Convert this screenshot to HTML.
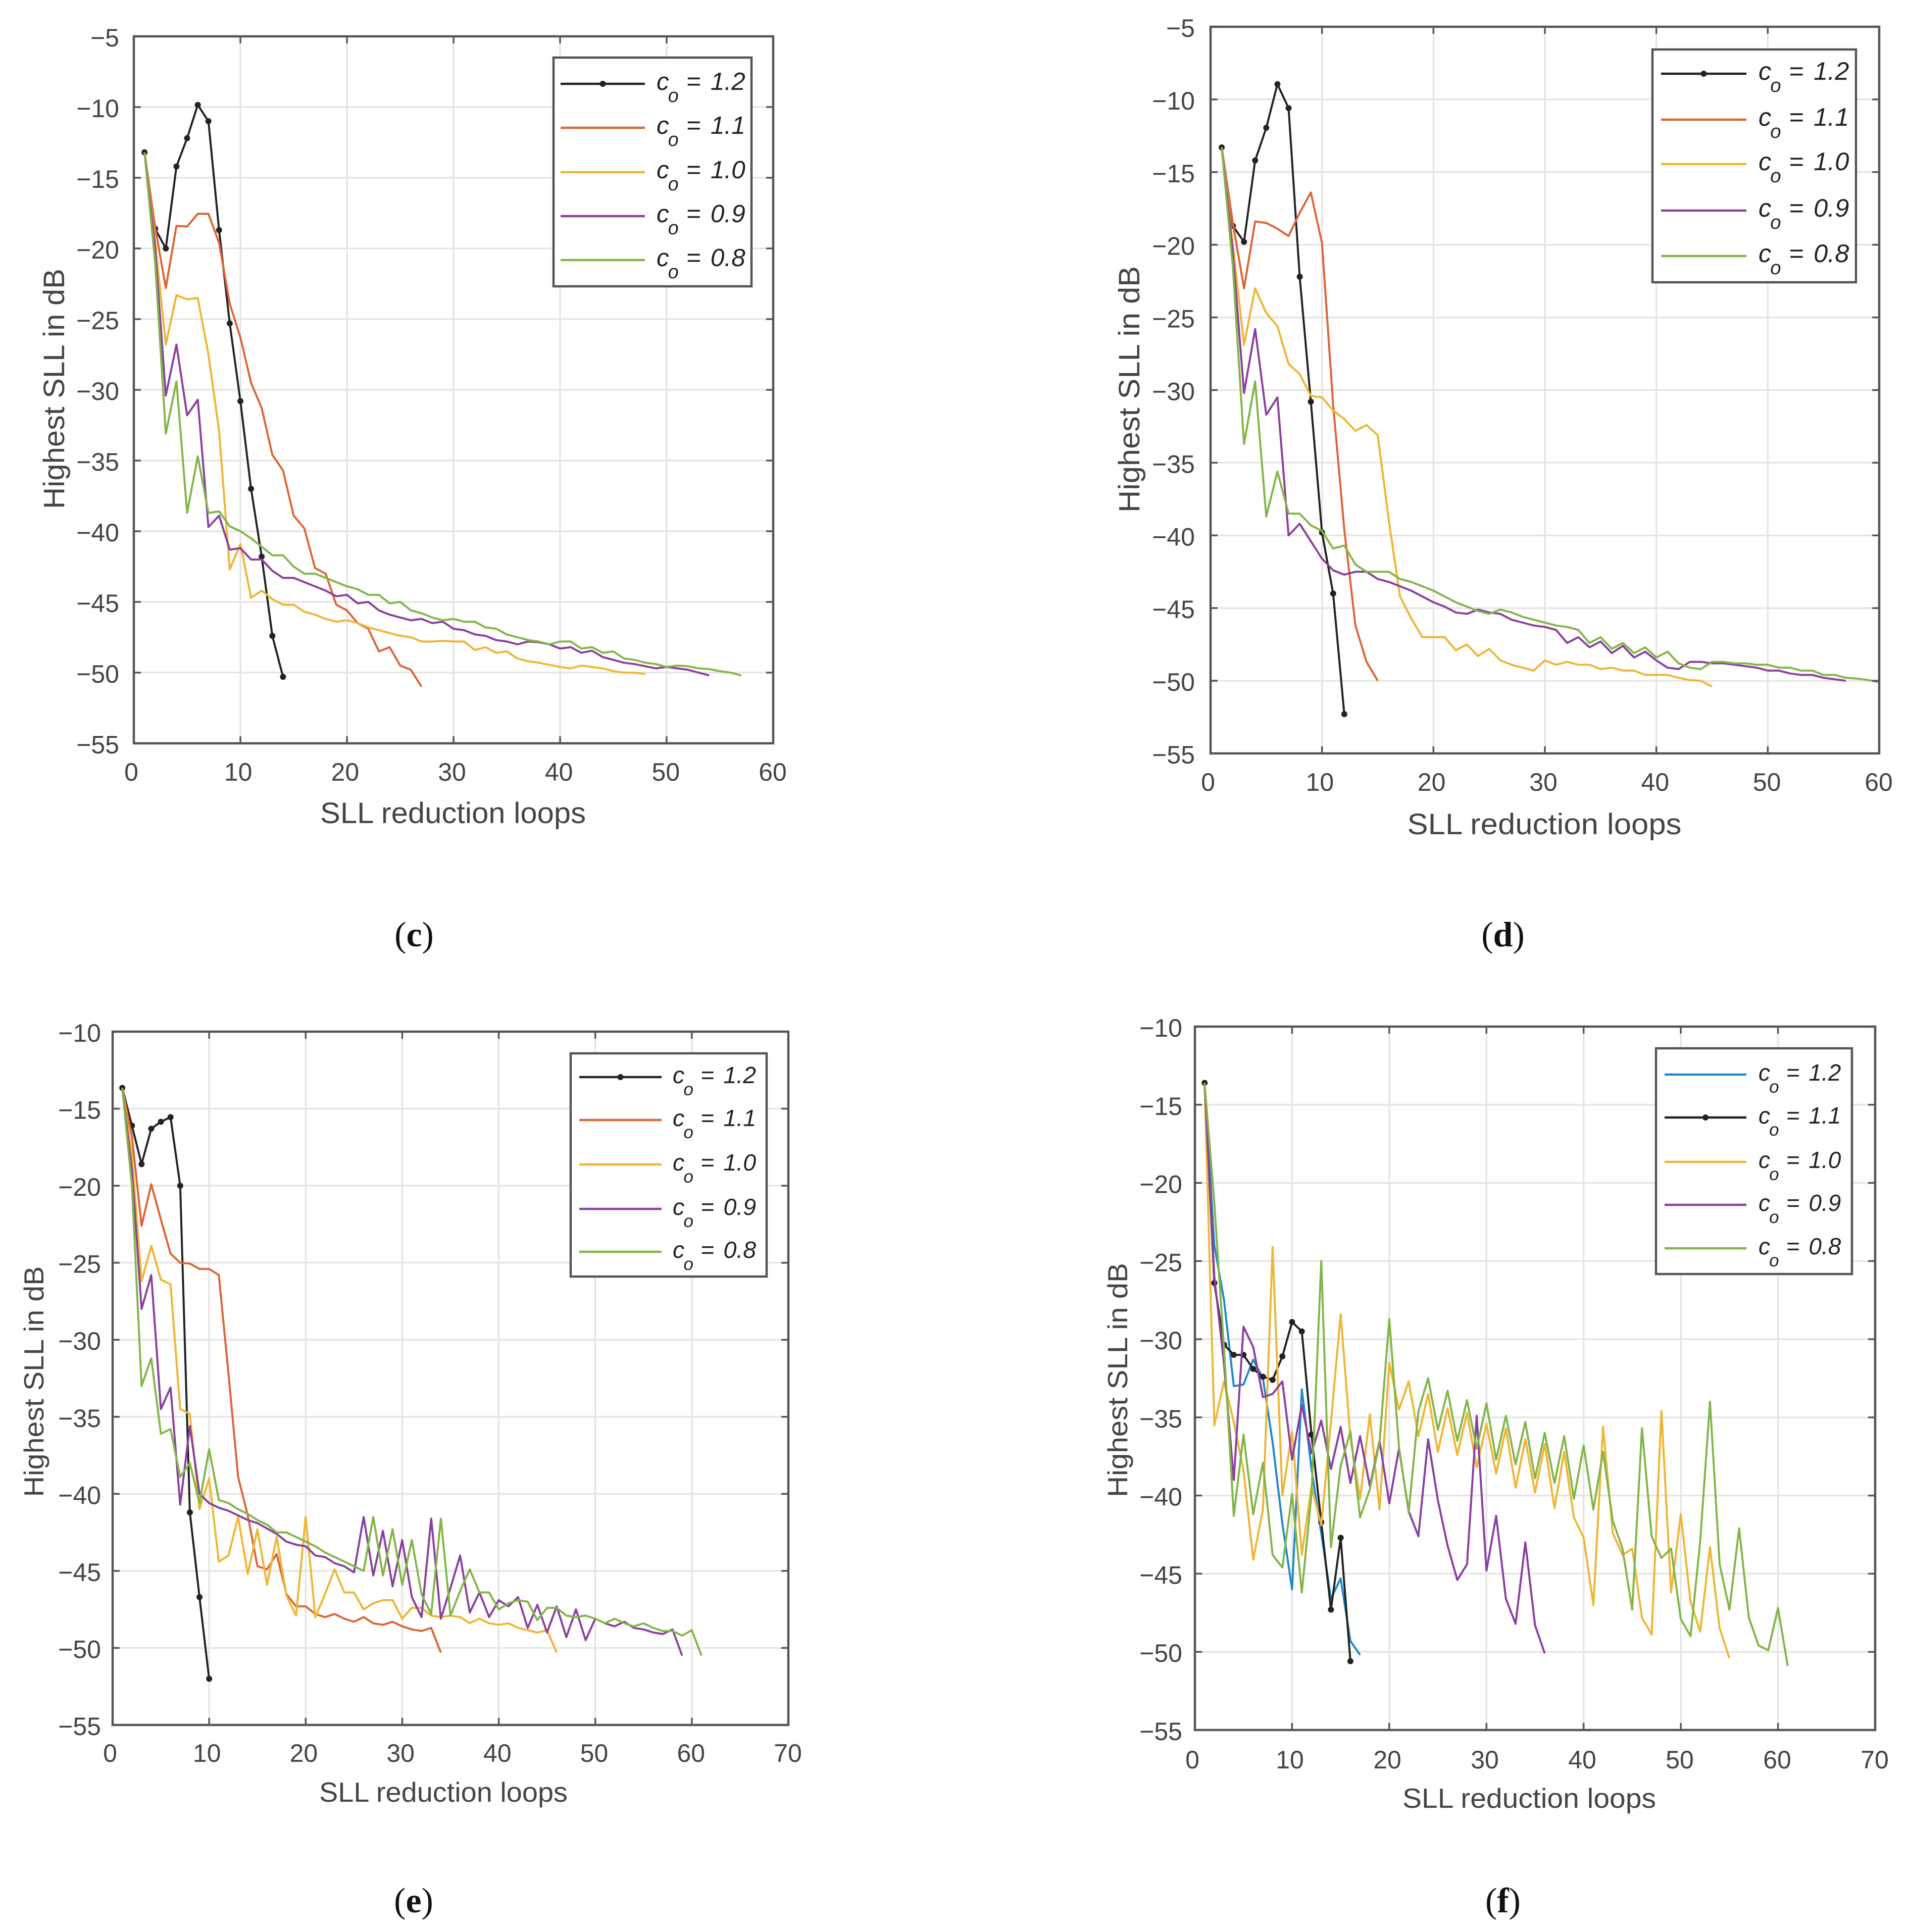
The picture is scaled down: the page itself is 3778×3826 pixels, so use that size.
<!DOCTYPE html>
<html lang="en">
<head>
<meta charset="utf-8">
<title>Highest SLL versus SLL reduction loops</title>
<style>
html,body{margin:0;padding:0;background:#fff;}
svg{display:block;filter:blur(0.9px);}
text{font-family:"Liberation Sans",sans-serif;fill:#444;}
.cap{font-family:"Liberation Serif",serif;fill:#111;}
</style>
</head>
<body>
<svg id="figure" xmlns="http://www.w3.org/2000/svg" width="3778" height="3826" viewBox="0 0 3778 3826">
<rect width="3778" height="3826" fill="#fff"/>
<text class="cap" x="820" y="1874" font-size="70" text-anchor="middle">(<tspan font-weight="bold">c</tspan>)</text>
<text class="cap" x="2976" y="1874" font-size="70" text-anchor="middle">(<tspan font-weight="bold">d</tspan>)</text>
<text class="cap" x="819" y="3787" font-size="70" text-anchor="middle">(<tspan font-weight="bold">e</tspan>)</text>
<text class="cap" x="2976" y="3787" font-size="70" text-anchor="middle">(<tspan font-weight="bold">f</tspan>)</text>
</svg>
<script>
// Tick labels
const xTicksSixty=[0,10,20,30,40,50,60];
const xTicksSeventy=[0,10,20,30,40,50,60,70];
const yTicksToFive=[-5,-10,-15,-20,-25,-30,-35,-40,-45,-50,-55];
const yTicksToTen=[-10,-15,-20,-25,-30,-35,-40,-45,-50,-55];
const legendValues=['1.2','1.1','1.0','0.9','0.8'];

// Panel (c)
const cBlack=[-13.2,-18.6,-20,-14.2,-12.2,-9.85,-11,-18.7,-25.3,-30.8,-37,-41.8,-47.4,-50.3];
const cOrange=[-13.2,-18.5,-22.8,-18.4,-18.45,-17.55,-17.55,-19.6,-23.9,-26.3,-29.5,-31.3,-34.6,-35.7,-38.9,-39.8,-42.6,-43,-45.2,-45.6,-46.5,-46.9,-48.5,-48.2,-49.5,-49.8,-51];
const cYellow=[-13.2,-19.5,-26.8,-23.3,-23.6,-23.5,-27.5,-32.9,-42.7,-40.9,-44.7,-44.2,-44.8,-45.2,-45.2,-45.7,-45.9,-46.2,-46.4,-46.3,-46.5,-46.8,-47,-47.2,-47.4,-47.5,-47.8,-47.8,-47.75,-47.8,-47.8,-48.4,-48.2,-48.6,-48.5,-49,-49.2,-49.3,-49.45,-49.6,-49.7,-49.5,-49.6,-49.7,-49.9,-50,-50,-50.1];
const cPurple=[-13.2,-20,-30.4,-26.8,-31.8,-30.7,-39.7,-38.9,-41.3,-41.2,-42,-42,-42.8,-43.3,-43.3,-43.6,-43.9,-44.2,-44.6,-44.5,-45.1,-45,-45.6,-45.9,-46.1,-46.3,-46.2,-46.5,-46.4,-46.9,-47,-47.3,-47.4,-47.7,-47.8,-48,-47.8,-47.85,-48,-48.3,-48.2,-48.6,-48.45,-48.9,-49.1,-49.3,-49.4,-49.55,-49.7,-49.6,-49.7,-49.8,-50,-50.2];
const cGreen=[-13.2,-21,-33.1,-29.4,-38.7,-34.7,-38.7,-38.6,-39.65,-40,-40.5,-41.1,-41.7,-41.7,-42.5,-43,-43,-43.3,-43.6,-43.9,-44.1,-44.5,-44.5,-45.1,-45,-45.6,-45.8,-46.1,-46.3,-46.2,-46.4,-46.4,-46.8,-46.9,-47.3,-47.5,-47.7,-47.8,-48,-47.8,-47.8,-48.3,-48.2,-48.6,-48.5,-49,-49.1,-49.3,-49.4,-49.6,-49.5,-49.55,-49.7,-49.75,-49.9,-50,-50.2];

// Panel (d)
const dBlack=[-13.3,-18.7,-19.8,-14.2,-11.95,-8.95,-10.6,-22.2,-30.8,-39.8,-44,-52.3];
const dOrange=[-13.3,-18.5,-23,-18.4,-18.5,-18.9,-19.4,-17.8,-16.4,-19.9,-31,-39.6,-46.2,-48.7,-50];
const dYellow=[-13.3,-20,-26.9,-23,-24.7,-25.6,-28.2,-28.9,-30.4,-30.5,-31.4,-32,-32.8,-32.4,-33.1,-39,-44.2,-45.7,-47,-47,-47,-47.9,-47.5,-48.3,-47.8,-48.6,-48.9,-49.1,-49.3,-48.6,-48.9,-48.7,-48.9,-48.9,-49.2,-49.1,-49.3,-49.3,-49.6,-49.6,-49.6,-49.8,-49.95,-50,-50.4];
const dPurple=[-13.3,-20.5,-30.2,-25.8,-31.7,-30.5,-40,-39.2,-40.4,-41.6,-42.4,-42.7,-42.5,-42.5,-43,-43.2,-43.5,-43.8,-44.2,-44.6,-44.9,-45.3,-45.4,-45.1,-45.3,-45.4,-45.8,-46,-46.2,-46.3,-46.5,-47.4,-47,-47.7,-47.3,-48.1,-47.6,-48.4,-48,-48.6,-49.1,-49.2,-48.7,-48.7,-48.8,-48.8,-48.9,-49,-49.1,-49.3,-49.3,-49.5,-49.6,-49.6,-49.8,-49.9,-50];
const dGreen=[-13.3,-21.5,-33.7,-29.4,-38.7,-35.6,-38.5,-38.5,-39.3,-39.7,-40.9,-40.7,-42,-42.5,-42.5,-42.5,-43,-43.2,-43.5,-43.8,-44.2,-44.6,-44.9,-45.2,-45.4,-45.1,-45.3,-45.6,-45.8,-46,-46.2,-46.3,-46.5,-47.4,-47,-47.8,-47.4,-48.1,-47.7,-48.4,-48,-48.8,-49.1,-49.2,-48.7,-48.7,-48.8,-48.8,-48.9,-48.9,-49.1,-49.1,-49.3,-49.3,-49.6,-49.6,-49.8,-49.85,-49.95,-50.1];

// Panel (e)
const eBlack=[-13.65,-16.1,-18.6,-16.3,-15.85,-15.55,-20,-41.2,-46.7,-52];
const eOrange=[-13.65,-16.8,-22.6,-19.9,-22.2,-24.4,-25,-25.05,-25.4,-25.4,-25.8,-32.2,-38.9,-41.4,-44.7,-44.9,-43.9,-46.5,-47.3,-47.3,-47.8,-48,-47.8,-48.1,-48.3,-48,-48.4,-48.5,-48.3,-48.6,-48.8,-48.9,-48.7,-50.3];
const eYellow=[-13.65,-18,-26.2,-23.9,-26.1,-26.4,-34.5,-34.8,-41,-39,-44.4,-44,-41.5,-45.2,-42.3,-45.9,-42.8,-46.6,-47.9,-41.5,-48,-46.5,-44.9,-46.4,-46.4,-47.5,-47.1,-46.9,-46.9,-48.1,-47.4,-47.4,-47.9,-48,-47.9,-48,-48.4,-48.1,-48.4,-48.5,-48.4,-48.7,-48.85,-49,-48.85,-50.3];
const ePurple=[-13.65,-19,-28,-25.8,-34.5,-33.1,-40.7,-35.6,-40,-40.6,-40.9,-41.1,-41.4,-41.7,-41.9,-42.25,-42.6,-43.1,-43.3,-43.4,-44,-44.1,-44.5,-44.7,-45.1,-41.5,-45.3,-42.4,-46,-43,-46.7,-48,-41.6,-48.1,-46.1,-44,-47.7,-46.4,-48,-46.9,-47.3,-46.7,-48.7,-47.2,-49,-47.3,-49.3,-47.5,-49.5,-48.1,-48.4,-48.6,-48.3,-48.7,-48.8,-49,-49.1,-48.8,-50.5];
const eGreen=[-13.65,-20,-33,-31.2,-36.1,-35.8,-38.9,-38,-40.6,-37.1,-40.4,-40.6,-41,-41.3,-41.7,-42,-42.5,-42.5,-42.8,-43.1,-43.4,-43.8,-44.1,-44.4,-44.7,-45,-41.5,-45.3,-42.3,-45.9,-43,-46.5,-47.8,-41.6,-47.9,-46.3,-44.9,-46.4,-46.4,-47.5,-47.1,-46.9,-47,-48.2,-47.4,-47.4,-47.9,-48,-47.9,-48.1,-48.4,-48.1,-48.4,-48.6,-48.4,-48.7,-48.9,-48.9,-49.2,-48.85,-50.5];

// Panel (f)
const fBlue=[-13.6,-24,-27.5,-33,-32.9,-31.3,-32.5,-36.6,-41.8,-46,-33.2,-38.3,-42.4,-46.6,-45.3,-49.3,-50.2];
const fBlack=[-13.6,-26.4,-30.35,-31,-31,-31.9,-32.4,-32.6,-31.1,-28.9,-29.5,-36.1,-41.7,-47.3,-42.7,-50.6];
const fYellow=[-13.6,-35.5,-32.7,-35.3,-38.4,-44.1,-40.9,-24.1,-40,-35.9,-43.8,-39.4,-41.9,-35.3,-28.4,-36.3,-40.2,-34.8,-40.9,-31.5,-34.5,-32.7,-36.2,-33.5,-37.2,-34.4,-37.4,-34.7,-38.2,-35.4,-38.6,-35.7,-39.5,-36.4,-39.8,-36.7,-40.8,-37.2,-41.4,-42.7,-47,-35.6,-42.4,-43.8,-43.4,-47.8,-48.9,-34.6,-46.2,-41.2,-46.8,-48.7,-43.3,-48.5,-50.4];
const fPurple=[-13.6,-26,-31.6,-39,-29.2,-30.5,-33.7,-33.5,-32.7,-37.7,-34.2,-37.3,-35.2,-38.3,-35.6,-39.2,-36.2,-39.4,-36.5,-40.5,-37,-41,-42.6,-36.4,-40.3,-43.2,-45.4,-44.4,-34.9,-44.8,-41.3,-46.6,-48.2,-43,-48.3,-50.1];
const fGreen=[-13.6,-21.3,-30.6,-41.3,-36.1,-41.2,-37.9,-43.8,-44.6,-39.9,-46.2,-39.9,-25,-43.3,-38.1,-35.9,-41.4,-39.6,-36.6,-28.7,-36.9,-41.1,-34.6,-32.5,-35.8,-33.3,-36.5,-33.9,-37,-34.1,-37.7,-34.9,-38,-35.3,-38.9,-36,-39.2,-36.2,-40.2,-36.8,-40.9,-37.2,-41.6,-43.4,-47.3,-35.7,-42.6,-44,-43.4,-47.9,-49,-42.9,-34,-44.4,-47.3,-42.1,-47.8,-49.6,-49.9,-47.2,-50.9];

const BLACK='#222222',ORANGE='#dd6436',YELLOW='#efb534',PURPLE='#8b3f9e',GREEN='#82b548',BLUE='#2089cc';

const panels=[
 {id:'c',left:265,right:1531,top:72,bottom:1472,xMax:60,yMax:-5,yMin:-55,xTicks:xTicksSixty,yTicks:yTicksToFive,
  yLabEnd:236,xLabBase:1546,xTitle:[897,1630,526,58],yTitle:[127,770,476,58],
  legend:{l:1096,t:114,r:1488,b:567,x0:1110,x1:1277,tx:1300,scale:0.99,rows:[166,253,341,428,515]},
  series:[[cBlack,BLACK,true],[cOrange,ORANGE,false],[cYellow,YELLOW,false],[cPurple,PURPLE,false],[cGreen,GREEN,false]]},
 {id:'d',left:2397,right:3721,top:53,bottom:1492,xMax:60,yMax:-5,yMin:-55,xTicks:xTicksSixty,yTicks:yTicksToFive,
  yLabEnd:2366,xLabBase:1566,xTitle:[3058,1652,543,58],yTitle:[2256,771,488,58],
  legend:{l:3272,t:98,r:3675,b:559,x0:3289,x1:3458,tx:3482,scale:1.01,rows:[146,237,325,417,507]},
  series:[[dBlack,BLACK,true],[dOrange,ORANGE,false],[dYellow,YELLOW,false],[dPurple,PURPLE,false],[dGreen,GREEN,false]]},
 {id:'e',left:223,right:1561,top:2043,bottom:3416,xMax:70,yMax:-10,yMin:-55,xTicks:xTicksSeventy,yTicks:yTicksToTen,
  yLabEnd:200,xLabBase:3489,xTitle:[878,3568,492,55],yTitle:[86,2736,457,55],
  legend:{l:1130,t:2086,r:1518,b:2528,x0:1147,x1:1310,tx:1332,scale:0.93,rows:[2133,2218,2306,2394,2479]},
  series:[[eBlack,BLACK,true],[eOrange,ORANGE,false],[eYellow,YELLOW,false],[ePurple,PURPLE,false],[eGreen,GREEN,false]]},
 {id:'f',left:2366,right:3713,top:2033,bottom:3426,xMax:70,yMax:-10,yMin:-55,xTicks:xTicksSeventy,yTicks:yTicksToTen,
  yLabEnd:2341,xLabBase:3502,xTitle:[3028,3580,502,55],yTitle:[2232,2733,464,55],
  legend:{l:3279,t:2076,r:3667,b:2523,x0:3296,x1:3458,tx:3482,scale:0.92,rows:[2128,2213,2301,2386,2472]},
  series:[[fBlue,BLUE,false],[fBlack,BLACK,true],[fYellow,YELLOW,false],[fPurple,PURPLE,false],[fGreen,GREEN,false]]}
];

const NS='http://www.w3.org/2000/svg';
const root=document.getElementById('figure');
function mk(parent,tag,props,content){
  const el=document.createElementNS(NS,tag);
  for(const k in props){el.setAttribute(k,props[k]);}
  if(content!==undefined){el.textContent=content;}
  parent.appendChild(el);
  return el;
}
function fmt(v){return v<0?'\u2212'+Math.abs(v):String(v);}

panels.forEach(function(p){
  const xAt=function(v){return p.left+v/p.xMax*(p.right-p.left);};
  const yAt=function(v){return p.top+(p.yMax-v)/(p.yMax-p.yMin)*(p.bottom-p.top);};
  const g=mk(root,'g',{});
  
  

  p.xTicks.forEach(function(t){
    const X=xAt(t);
    if(t>0&&t<p.xMax){
      const gl=mk(g,'line',{x1:X,x2:X,y1:p.top,y2:p.bottom,stroke:'#e2e2e2','stroke-width':3});
      
      
    }
  });
  p.yTicks.forEach(function(t){
    const Y=yAt(t);
    if(t<p.yMax&&t>p.yMin){
      const gl=mk(g,'line',{x1:p.left,x2:p.right,y1:Y,y2:Y,stroke:'#e6e6e6','stroke-width':3.5});
      
      
    }
  });

  p.series.forEach(function(s){
    const pts=s[0].map(function(v,i){return xAt(i+1).toFixed(1)+','+yAt(v).toFixed(1);}).join(' ');
    const line=mk(g,'polyline',{points:pts,fill:'none',stroke:s[1],'stroke-width':4,'stroke-linejoin':'round'});
    
    
    if(s[2]){
      s[0].forEach(function(v,i){
        const dot=mk(g,'circle',{cx:xAt(i+1),cy:yAt(v),r:6,fill:s[1]});
        
        
      });
    }
  });

  const box=mk(g,'rect',{x:p.left,y:p.top,width:p.right-p.left,height:p.bottom-p.top,fill:'none',stroke:'#555','stroke-width':4.5});
  
  

  p.xTicks.forEach(function(t){
    const X=xAt(t);
    const a=mk(g,'line',{x1:X,x2:X,y1:p.bottom,y2:p.bottom-14,stroke:'#555','stroke-width':3.5});
    
    
    const b=mk(g,'line',{x1:X,x2:X,y1:p.top,y2:p.top+14,stroke:'#555','stroke-width':3.5});
    
    
    const lab=mk(g,'text',{x:X-5+4*t/p.xMax,y:p.xLabBase,'font-size':50,'text-anchor':'middle'},fmt(t));
    
    
  });
  p.yTicks.forEach(function(t){
    const Y=yAt(t);
    const a=mk(g,'line',{x1:p.left,x2:p.left+14,y1:Y,y2:Y,stroke:'#555','stroke-width':3.5});
    
    
    const b=mk(g,'line',{x1:p.right,x2:p.right-14,y1:Y,y2:Y,stroke:'#555','stroke-width':3.5});
    
    
    const lab=mk(g,'text',{x:p.yLabEnd,y:Y+20,'font-size':50,'text-anchor':'end'},fmt(t));
    
    
  });

  const xt=p.xTitle;
  const xTitle=mk(g,'text',{x:xt[0],y:xt[1],'font-size':xt[3],'text-anchor':'middle',textLength:xt[2],lengthAdjust:'spacingAndGlyphs'},'SLL reduction loops');
  
  
  const yt=p.yTitle;
  const yTitle=mk(g,'text',{x:0,y:0,transform:'translate('+yt[0]+','+yt[1]+') rotate(-90)','font-size':yt[3],'text-anchor':'middle',textLength:yt[2],lengthAdjust:'spacingAndGlyphs'},'Highest SLL in dB');
  
  

  const L=p.legend;
  const k=L.scale;
  const lg=mk(g,'g',{});
  
  
  const lb=mk(lg,'rect',{x:L.l,y:L.t,width:L.r-L.l,height:L.b-L.t,fill:'#fff',stroke:'#555','stroke-width':4.5});
  
  
  p.series.forEach(function(s,i){
    const Y=L.rows[i];
    const sw=mk(lg,'line',{x1:L.x0,x2:L.x1,y1:Y,y2:Y,stroke:s[1],'stroke-width':4.5});
    
    
    if(s[2]){
      const d=mk(lg,'circle',{cx:(L.x0+L.x1)/2,cy:Y,r:6,fill:s[1]});
      
      
    }
    const c=mk(lg,'text',{x:L.tx,y:Y+12,'font-size':50*k,'font-style':'italic',style:'fill:#222'},'c');
    
    
    const o=mk(lg,'text',{x:L.tx+23*k,y:Y+36,'font-size':38*k,'font-style':'italic',style:'fill:#222'},'o');
    
    
    const eq=mk(lg,'text',{x:L.tx+60*k,y:Y+12,'font-size':50*k,style:'fill:#222'},'=');
    
    
    const val=mk(lg,'text',{x:L.tx+108*k,y:Y+12,'font-size':50*k,'font-style':'italic',style:'fill:#222'},legendValues[i]);
    
    
  });
});
</script>
</body>
</html>
